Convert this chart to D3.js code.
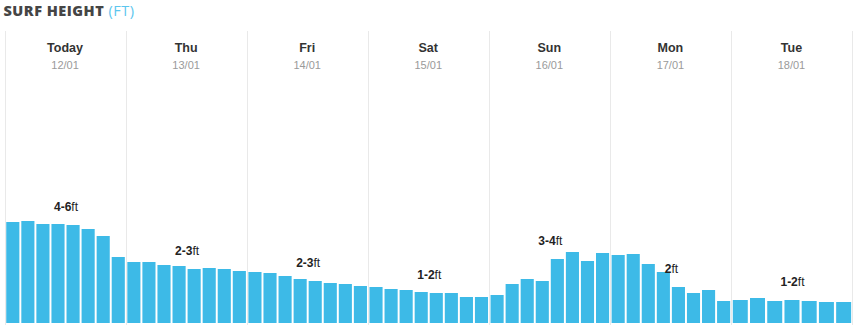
<!DOCTYPE html>
<html>
<head>
<meta charset="utf-8">
<script src="https://cdn.jsdelivr.net/npm/d3@7/dist/d3.min.js"></script>
<style>
  html, body { margin: 0; padding: 0; background: #fff; }
  svg { display: block; }
</style>
</head>
<body>
<svg id="chart" width="858" height="325"></svg>
<script>
// Forecast days and their dates
const days = ["Today", "Thu", "Fri", "Sat", "Sun", "Mon", "Tue"];
const dates = ["12/01", "13/01", "14/01", "15/01", "16/01", "17/01", "18/01"];

// Daily surf range labels
const rangeLabels = ["4-6", "2-3", "2-3", "1-2", "3-4", "2", "1-2"];

// 3-hourly surf height (ft) for each day
const heightToday = [4.04, 4.08, 3.96, 3.96, 3.92, 3.76, 3.48, 2.64];
const heightThu   = [2.44, 2.44, 2.32, 2.28, 2.16, 2.20, 2.16, 2.08];
const heightFri   = [2.04, 2.00, 1.88, 1.76, 1.68, 1.60, 1.56, 1.48];
const heightSat   = [1.44, 1.36, 1.32, 1.24, 1.20, 1.20, 1.04, 1.04];
const heightSun   = [1.12, 1.56, 1.76, 1.68, 2.56, 2.84, 2.48, 2.80];
const heightMon   = [2.72, 2.76, 2.36, 2.04, 1.44, 1.20, 1.32, 0.88];
const heightTue   = [0.92, 1.00, 0.88, 0.92, 0.88, 0.84, 0.84];

const heights = [heightToday, heightThu, heightFri, heightSat, heightSun, heightMon, heightTue];

const svg = d3.select("#chart");
const W = 858, H = 325;
const baseY = 323;

// Title
const title = svg.append("text")
  .attr("x", 3.5).attr("y", 15.5)
  .style("font-family", "'Open Sans', sans-serif")
  .style("font-size", "14.5px")
  .style("letter-spacing", "0.5px");
title.append("tspan").text("SURF HEIGHT ")
  .style("font-weight", "800").attr("fill", "#454545");
title.append("tspan").text("(FT)")
  .style("font-weight", "400").attr("fill", "#5cc6ee");

// Scales
const x = d3.scaleBand().domain(days).range([4.5, 852]).padding(0);
const y = d3.scaleLinear().domain([0, 10]).range([baseY, 73]);

// Day separators
const sepX = days.map(d => x(d)).concat([x.range()[1]]);
svg.append("g").selectAll("line").data(sepX).join("line")
  .attr("x1", d => Math.round(d) + 0.5).attr("x2", d => Math.round(d) + 0.5)
  .attr("y1", 31).attr("y2", H)
  .attr("stroke", "#e9e9e9").attr("stroke-width", 1);

// Day headers
const headers = svg.append("g").selectAll("g").data(days).join("g")
  .attr("transform", d => `translate(${x(d) + x.bandwidth() / 2},0)`);
headers.append("text")
  .attr("y", 52).attr("text-anchor", "middle")
  .style("font-family", "'Liberation Sans', Arial, sans-serif")
  .style("font-size", "12.5px").style("font-weight", "700")
  .attr("fill", "#333")
  .text(d => d);
headers.append("text")
  .attr("y", 69).attr("text-anchor", "middle")
  .style("font-family", "'Liberation Sans', Arial, sans-serif")
  .style("font-size", "11px")
  .attr("fill", "#9a9a9a")
  .text((d, i) => dates[i]);

// Bars per day
days.forEach((day, i) => {
  const vals = heights[i];
  const x0 = x(day);
  const inner = d3.scaleBand()
    .domain(d3.range(vals.length))
    .range([x0 + 1, x0 + x.bandwidth()])
    .paddingInner(0.13).paddingOuter(0.05);

  const g = svg.append("g");
  g.selectAll("rect").data(vals).join("rect")
    .attr("x", (d, j) => inner(j))
    .attr("width", inner.bandwidth())
    .attr("y", d => y(d))
    .attr("height", d => baseY - y(d))
    .attr("fill", "#3dbae7");

  // Range label above the middle bar of the day
  const mid = Math.floor(vals.length / 2);
  const lbl = g.append("text")
    .attr("x", x0 + x.bandwidth() / 2 + 1)
    .attr("y", y(vals[mid]) - 14)
    .attr("text-anchor", "middle")
    .style("font-family", "'Liberation Sans', Arial, sans-serif")
    .style("font-size", "12px")
    .attr("fill", "#222");
  lbl.append("tspan").text(rangeLabels[i]).style("font-weight", "600");
  lbl.append("tspan").text("ft").style("font-weight", "400");
});
</script>
</body>
</html>
